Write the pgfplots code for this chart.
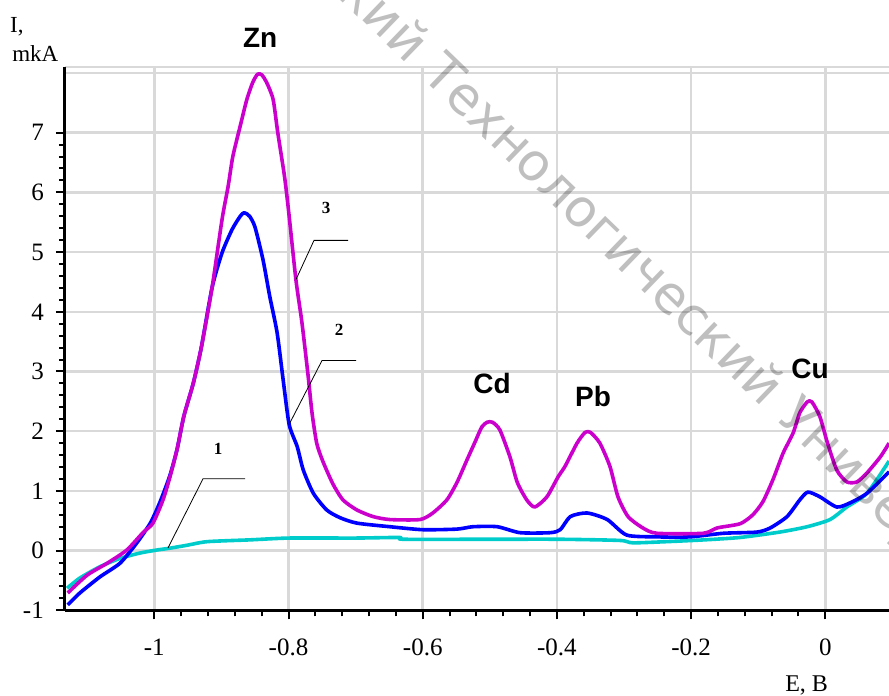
\documentclass[border=0pt]{standalone}
\usepackage{fontspec}
\setmainfont{Liberation Serif}
\newfontfamily\labsans{Liberation Sans}
\newfontfamily\wmfont{DejaVu Sans}
\usepackage{pgfplots}
\pgfplotsset{compat=1.18}
\usepackage{pgfplotstable}
\definecolor{c1}{RGB}{0,204,204}
\definecolor{c2}{RGB}{0,0,255}
\definecolor{c3}{RGB}{204,0,204}
\definecolor{gridc}{RGB}{217,217,217}

\pgfplotstableread{
x y
-1.130 -0.63
-1.111 -0.46
-1.081 -0.27
-1.051 -0.13
-1.021 -0.04
-0.996 0.01
-0.977 0.04
-0.951 0.09
-0.921 0.15
-0.857 0.18
-0.799 0.21
-0.700 0.21
-0.634 0.22
-0.629 0.19
-0.500 0.19
-0.395 0.19
-0.306 0.17
-0.287 0.13
-0.236 0.15
-0.180 0.18
-0.127 0.22
-0.068 0.31
-0.027 0.40
0.007 0.52
0.032 0.73
0.062 0.96
0.095 1.50
}\curveone

\pgfplotstableread{
x y
-1.129 -0.91
-1.111 -0.71
-1.081 -0.44
-1.051 -0.21
-1.026 0.13
-1.006 0.46
-0.992 0.80
-0.977 1.25
-0.966 1.70
-0.956 2.25
-0.942 2.80
-0.930 3.40
-0.914 4.40
-0.899 4.99
-0.884 5.38
-0.872 5.60
-0.866 5.66
-0.858 5.60
-0.850 5.42
-0.838 4.87
-0.828 4.26
-0.817 3.65
-0.808 2.86
-0.799 2.11
-0.787 1.74
-0.778 1.35
-0.763 0.96
-0.743 0.68
-0.723 0.55
-0.698 0.46
-0.649 0.40
-0.600 0.35
-0.549 0.36
-0.525 0.40
-0.489 0.40
-0.455 0.30
-0.410 0.30
-0.395 0.35
-0.380 0.57
-0.355 0.63
-0.325 0.52
-0.296 0.26
-0.251 0.23
-0.202 0.23
-0.152 0.29
-0.102 0.31
-0.082 0.38
-0.057 0.57
-0.038 0.85
-0.026 0.98
-0.008 0.90
0.017 0.73
0.037 0.80
0.062 0.96
0.095 1.32
}\curvetwo

\pgfplotstableread{
x y
-1.129 -0.71
-1.100 -0.41
-1.070 -0.21
-1.041 0.01
-1.017 0.30
-1.002 0.46
-0.987 0.85
-0.977 1.22
-0.966 1.70
-0.956 2.25
-0.942 2.80
-0.930 3.40
-0.914 4.40
-0.899 5.55
-0.890 6.10
-0.883 6.60
-0.872 7.11
-0.862 7.56
-0.853 7.85
-0.846 7.98
-0.840 7.97
-0.833 7.85
-0.823 7.56
-0.816 7.00
-0.806 6.27
-0.800 5.70
-0.789 4.54
-0.780 3.82
-0.771 2.95
-0.765 2.31
-0.758 1.80
-0.749 1.50
-0.734 1.12
-0.719 0.85
-0.698 0.68
-0.674 0.57
-0.649 0.52
-0.604 0.52
-0.585 0.63
-0.564 0.85
-0.549 1.14
-0.534 1.52
-0.522 1.82
-0.512 2.07
-0.504 2.15
-0.496 2.15
-0.485 2.02
-0.470 1.57
-0.459 1.14
-0.445 0.85
-0.433 0.73
-0.415 0.90
-0.398 1.24
-0.388 1.41
-0.370 1.80
-0.358 1.98
-0.350 1.98
-0.336 1.80
-0.321 1.41
-0.309 0.90
-0.294 0.57
-0.272 0.38
-0.251 0.29
-0.182 0.29
-0.161 0.38
-0.127 0.45
-0.108 0.60
-0.093 0.82
-0.078 1.19
-0.063 1.63
-0.048 1.97
-0.038 2.31
-0.027 2.49
-0.020 2.49
-0.008 2.24
0.003 1.81
0.017 1.35
0.032 1.15
0.047 1.15
0.062 1.30
0.082 1.57
0.095 1.80
}\curvethree

\begin{document}
\begin{tikzpicture}[x=1pt,y=1pt]
\path[use as bounding box] (0,0) rectangle (889,696);
\begin{axis}[
  at={(65pt,85.7pt)}, anchor=south west,
  scale only axis, width=824pt, height=543.3pt,
  xmin=-1.1331, xmax=0.0949, ymin=-1, ymax=8.1,
  clip=false,
  axis line style={draw=none},
  xtick={-1,-0.8,-0.6,-0.4,-0.2,0},
  xticklabels={-1,-0.8,-0.6,-0.4,-0.2,0},
  ytick={-1,0,1,2,3,4,5,6,7},
  yticklabels={-1,0,1,2,3,4,5,6,7},
  minor x tick num=4, minor y tick num=4,
  xtick pos=bottom, ytick pos=left,
  tick align=outside,
  major tick length=9pt, minor tick length=6pt,
  tick style={black, line width=2pt},
  grid=major,
  major grid style={gridc, line width=2.5pt},
  ticklabel style={font=\fontsize{25}{25}\selectfont, inner sep=0pt},
  xticklabel style={anchor=north, yshift=-19pt},
  yticklabel style={anchor=east, xshift=-12pt},
]
\draw[gridc, line width=2.5pt] (axis cs:-1.1331,8) -- (axis cs:0.0949,8);
\draw[gridc, line width=2.5pt] (rel axis cs:0,1) -- (rel axis cs:1,1);

\addplot[c1, line width=3.6pt, line join=round, smooth, tension=0.4] table {\curveone};
\addplot[c2, line width=3.6pt, line join=round, smooth, tension=0.4] table {\curvetwo};
\addplot[c3, line width=3.6pt, line join=round, smooth, tension=0.4] table {\curvethree};

\draw[black, line width=3pt] (rel axis cs:0,0) -- (rel axis cs:0,1);
\draw[black, line width=3.5pt] (rel axis cs:0,0) -- (rel axis cs:1,0);

% leader lines and curve numbers
\draw[black, line width=0.8pt] (axis cs:-0.9796,0.045) -- (axis cs:-0.9274,1.203) -- (axis cs:-0.8648,1.203);
\draw[black, line width=0.8pt] (axis cs:-0.7993,2.109) -- (axis cs:-0.7501,3.183) -- (axis cs:-0.6994,3.183);
\draw[black, line width=0.8pt] (axis cs:-0.7888,4.542) -- (axis cs:-0.7620,5.196) -- (axis cs:-0.7113,5.196);
\node[font=\bfseries\fontsize{17}{17}\selectfont] at (axis cs:-0.9048,1.705) {1};
\node[font=\bfseries\fontsize{17}{17}\selectfont] at (axis cs:-0.7247,3.703) {2};
\node[font=\bfseries\fontsize{17}{17}\selectfont] at (axis cs:-0.7441,5.733) {3};

% peak labels
\node[font=\labsans\bfseries\fontsize{28}{28}\selectfont] at (axis cs:-0.8422,8.585) {Zn};
\node[font=\labsans\bfseries\fontsize{28}{28}\selectfont] at (axis cs:-0.4967,2.797) {Cd};
\node[font=\labsans\bfseries\fontsize{28}{28}\selectfont] at (axis cs:-0.3462,2.579) {Pb};
\node[font=\labsans\bfseries\fontsize{28}{28}\selectfont] at (axis cs:-0.0228,3.049) {Cu};

% axis titles
\node[anchor=base west, inner sep=0pt, font=\fontsize{23}{23}\selectfont] at (axis cs:-1.215,8.686) {I,};
\node[anchor=base west, inner sep=0pt, font=\fontsize{23}{23}\selectfont] at (axis cs:-1.212,8.20) {mkA};
\node[anchor=base west, inner sep=0pt, font=\fontsize{24}{24}\selectfont] at (axis cs:-0.060,-2.354) {E, B};

% watermark
\node[rotate=-44, inner sep=0pt, font=\wmfont\fontsize{52}{52}\selectfont, opacity=0.25] (wm) at (axis cs:-0.3283,5.398) {Технологический};
\node[rotate=-44, inner sep=0pt, anchor=base east, font=\wmfont\fontsize{52}{52}\selectfont, opacity=0.25] at (wm.base west) {Исследовательский\hspace*{0.32em}};
\node[rotate=-44, inner sep=0pt, anchor=base west, font=\wmfont\fontsize{52}{52}\selectfont, opacity=0.25] at (wm.base east) {\hspace*{0.32em}Университет};
\end{axis}
\end{tikzpicture}
\end{document}
